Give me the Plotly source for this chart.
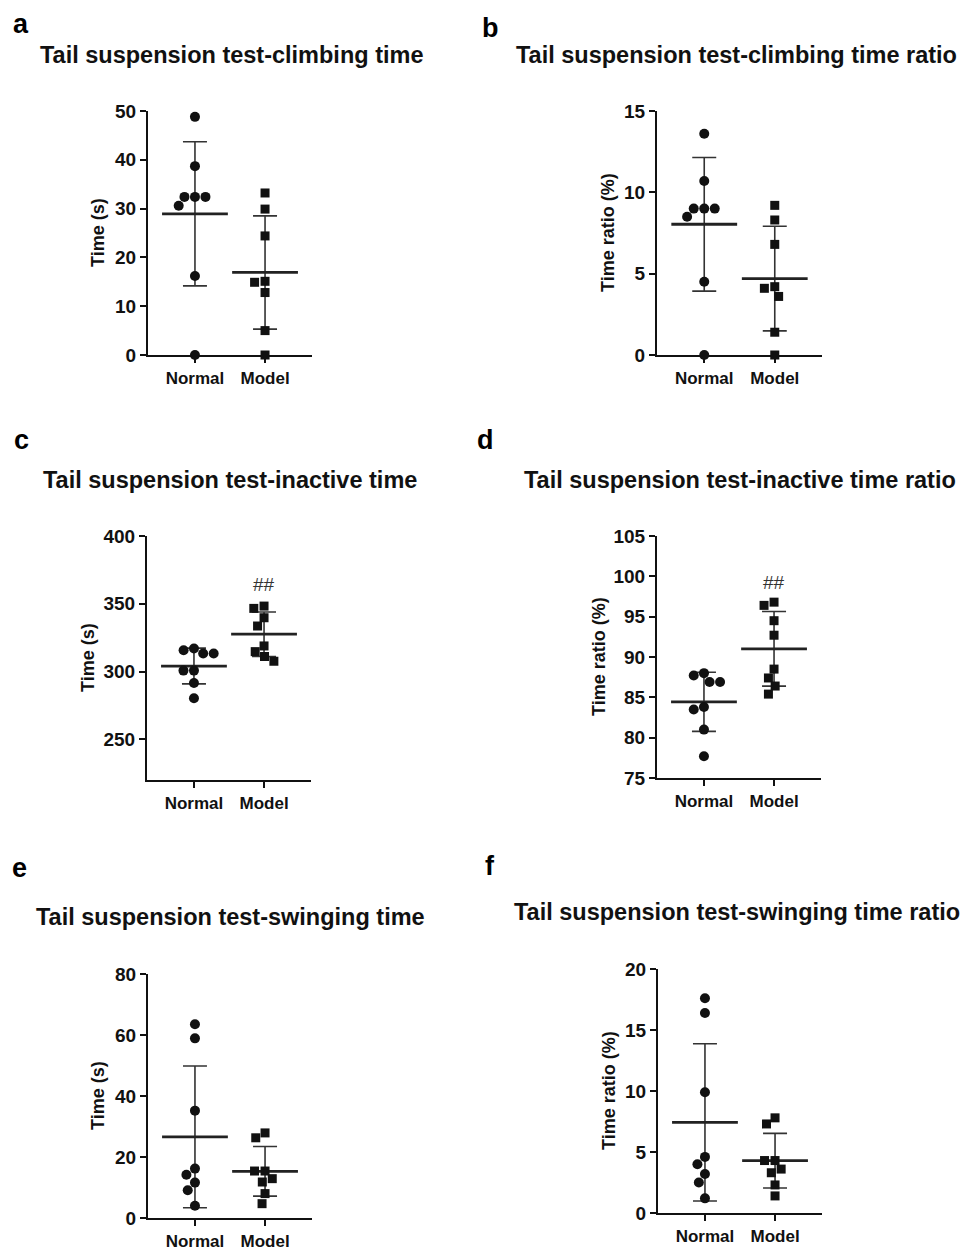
import math
import numpy as np
import plotly.graph_objects as go

W, H = 966, 1251

# ---------------- data ----------------
categories = ["Normal", "Model"]

climb_time_normal = [48.8, 38.7, 32.4, 32.4, 32.4, 30.6, 16.2, 0.0]
climb_time_model = [33.2, 29.9, 24.4, 15.1, 14.9, 12.8, 5.0, 0.0]

climb_ratio_normal = [13.6, 10.7, 9.0, 9.0, 9.0, 8.5, 4.5, 0.0]
climb_ratio_model = [9.2, 8.3, 6.8, 4.2, 4.1, 3.6, 1.4, 0.0]

inactive_time_normal = [317.0, 315.7, 313.3, 313.3, 300.7, 300.7, 291.6, 280.3]
inactive_time_model = [348.3, 346.6, 339.7, 333.6, 318.9, 314.7, 311.1, 307.6]

inactive_ratio_normal = [88.0, 87.7, 86.9, 86.9, 83.8, 83.5, 81.0, 77.7]
inactive_ratio_model = [96.8, 96.4, 94.5, 92.7, 88.5, 87.4, 86.4, 85.4]

swing_time_normal = [63.5, 58.9, 35.2, 16.2, 14.2, 11.6, 9.1, 4.0]
swing_time_model = [27.9, 26.3, 15.4, 15.4, 12.9, 11.8, 8.0, 4.7]

swing_ratio_normal = [17.6, 16.4, 9.9, 4.6, 4.0, 3.2, 2.5, 1.2]
swing_ratio_model = [7.8, 7.3, 4.3, 4.3, 3.6, 3.3, 2.3, 1.4]

titles = [
    "Tail suspension test-climbing time",
    "Tail suspension test-climbing time ratio",
    "Tail suspension test-inactive time",
    "Tail suspension test-inactive time ratio",
    "Tail suspension test-swinging time",
    "Tail suspension test-swinging time ratio",
]
panel_letters = ["a", "b", "c", "d", "e", "f"]
y_titles = ["Time (s)", "Time ratio (%)", "Time (s)", "Time ratio (%)", "Time (s)", "Time ratio (%)"]
y_ticks = [
    [0, 10, 20, 30, 40, 50],
    [0, 5, 10, 15],
    [250, 300, 350, 400],
    [75, 80, 85, 90, 95, 100, 105],
    [0, 20, 40, 60, 80],
    [0, 5, 10, 15, 20],
]
y_ranges = [[0, 50], [0, 15], [220, 400], [75, 105], [0, 80], [0, 20]]
significance = ["", "", "##", "##", "", ""]
sig_value = [None, None, 364, 99.2, None, None]

panels_data = [
    (climb_time_normal, climb_time_model),
    (climb_ratio_normal, climb_ratio_model),
    (inactive_time_normal, inactive_time_model),
    (inactive_ratio_normal, inactive_ratio_model),
    (swing_time_normal, swing_time_model),
    (swing_ratio_normal, swing_ratio_model),
]

# ---------------- layout geometry (pixels) ----------------
# (x_left, x_right, y_top, y_bottom)
geom = [
    (148, 312, 111, 355),
    (657, 822, 111, 355),
    (147, 311, 536, 780),
    (657, 821, 536, 778),
    (148, 312, 974, 1218),
    (658, 822, 969, 1213),
]
title_pos = [(231, 55), (736, 55), (230, 480), (740, 480), (230, 917), (737, 912)]
letter_pos = [(21, 24), (490, 28), (21, 440), (485, 440), (19, 868), (490, 866)]
ytitle_off = [50, 49, 59, 58, 50, 49]
x_range = [-0.67, 1.67]

FONT = "Liberation Sans, Arial, sans-serif"
INK = "#111111"


def px_x(p):
    return p / W


def px_y(p):
    return 1 - p / H


def swarm(vals, ppu, d):
    placed = []
    offs = []
    for v in vals:
        y = v * ppu
        cands = [0.0]
        for px, py in placed:
            dy = abs(py - y)
            if dy < d:
                dx = math.sqrt(d * d - dy * dy)
                cands += [px + dx, px - dx]
        cands.sort(key=lambda c: (round(abs(c), 6), c))
        chosen = 0.0
        for c in cands:
            if all((c - px) ** 2 + (y - py) ** 2 >= d * d - 1e-6 for px, py in placed):
                chosen = c
                break
        placed.append((chosen, y))
        offs.append(chosen)
    return offs


fig = go.Figure()
annotations = []

for i, (geo, (nvals, mvals)) in enumerate(zip(geom, panels_data)):
    x0, x1, yt, yb = geo
    k = "" if i == 0 else str(i + 1)
    xa, ya = "x" + k, "y" + k
    lo, hi = y_ranges[i]
    ppu_y = (yb - yt) / (hi - lo)
    ppu_x = (x1 - x0) / (x_range[1] - x_range[0])

    for gi, (vals, sym, msize) in enumerate([(nvals, "circle", 10), (mvals, "square", 9)]):
        arr = np.array(vals, dtype=float)
        mean = arr.mean()
        sd = arr.std(ddof=1)
        # error bar (SD)
        fig.add_trace(go.Scatter(
            x=[gi], y=[mean], xaxis=xa, yaxis=ya, mode="markers",
            marker=dict(size=0.1, color="rgba(0,0,0,0)"),
            error_y=dict(type="data", array=[sd], visible=True, width=12, thickness=1.6, color="#333333"),
            showlegend=False, hoverinfo="skip", cliponaxis=False,
        ))
        # mean line
        fig.add_trace(go.Scatter(
            x=[gi], y=[mean], xaxis=xa, yaxis=ya, mode="markers",
            marker=dict(symbol="line-ew", size=47, line=dict(width=2.8, color="#222222")),
            showlegend=False, hoverinfo="skip", cliponaxis=False,
        ))
        offs = swarm(vals, ppu_y, 10.5)
        xs = [gi + o / ppu_x for o in offs]
        fig.add_trace(go.Scatter(
            x=xs, y=vals, xaxis=xa, yaxis=ya, mode="markers",
            marker=dict(symbol=sym, size=msize, color=INK, line=dict(width=0)),
            showlegend=False, cliponaxis=False, name=categories[gi],
        ))

    axis_common = dict(
        showline=True, linewidth=2.2, linecolor=INK, ticks="outside", ticklen=6,
        tickwidth=2, tickcolor=INK, showgrid=False, zeroline=False,
    )
    fig.update_layout(**{
        ("xaxis" + k): dict(
            domain=[px_x(x0), px_x(x1)], range=x_range, anchor=ya,
            tickvals=[0, 1], ticktext=categories,
            tickfont=dict(family=FONT, size=17, color=INK, weight="bold"),
            **axis_common,
        ),
        ("yaxis" + k): dict(
            domain=[px_y(yb), px_y(yt)], range=[lo, hi], anchor=xa,
            tickvals=y_ticks[i],
            tickfont=dict(family=FONT, size=19, color=INK, weight="bold"),
            **axis_common,
        ),
    })

    # title
    tx, ty = title_pos[i]
    annotations.append(dict(
        x=px_x(tx), y=px_y(ty), xref="paper", yref="paper", text=titles[i],
        showarrow=False, xanchor="center", yanchor="middle",
        font=dict(family=FONT, size=23.5, color=INK, weight="bold"),
    ))
    lx, ly = letter_pos[i]
    annotations.append(dict(
        x=px_x(lx), y=px_y(ly), xref="paper", yref="paper", text=panel_letters[i],
        showarrow=False, xanchor="center", yanchor="middle",
        font=dict(family=FONT, size=27, color="#000000", weight="bold"),
    ))
    annotations.append(dict(
        x=px_x(x0 - ytitle_off[i]), y=px_y((yt + yb) / 2), xref="paper", yref="paper",
        text=y_titles[i], textangle=-90, showarrow=False, xanchor="center", yanchor="middle",
        font=dict(family=FONT, size=18, color=INK, weight="bold"),
    ))
    if significance[i]:
        annotations.append(dict(
            x=1, y=sig_value[i], xref=xa, yref=ya, text=significance[i],
            showarrow=False, xanchor="center", yanchor="middle",
            font=dict(family=FONT, size=19, color="#333333"),
        ))

fig.update_layout(
    autosize=True, margin=dict(l=0, r=0, t=0, b=0, autoexpand=False),
    paper_bgcolor="white", plot_bgcolor="white",
    annotations=annotations, showlegend=False,
)

fig.write_html(
    "out.html",
    default_width="100vw",
    default_height="100vh",
    config={"displayModeBar": False, "responsive": True},
    post_script="document.body.style.margin='0';document.body.style.padding='0';document.body.style.overflow='hidden';",
)
